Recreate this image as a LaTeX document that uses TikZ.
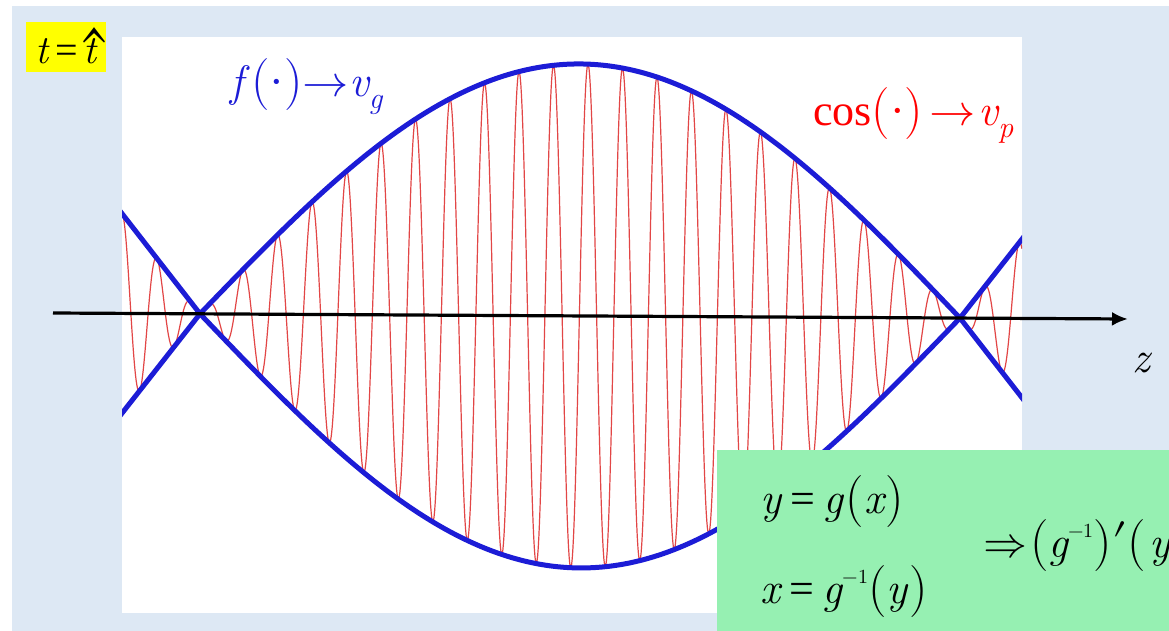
\documentclass[tikz,border=0pt]{standalone}
\usepackage{fontspec}
\usepackage{graphicx}
\setmainfont{Liberation Serif}
\newfontfamily\lmr{Latin Modern Roman}
\newfontfamily\lmm{Latin Modern Math}
\usetikzlibrary{arrows.meta}
\definecolor{bgblue}{RGB}{221,232,244}
\definecolor{envblue}{RGB}{28,28,214}
\definecolor{carrierred}{RGB}{226,70,70}
\definecolor{hlyellow}{RGB}{255,255,0}
\definecolor{boxgreen}{RGB}{150,240,178}
\newcommand\iv[1]{{\lmr\itshape #1}}
\newcommand\bp[1]{\raisebox{-1pt}{\fontsize{52}{52}\selectfont\lmr #1}}
\newcommand\smsub[1]{\raisebox{-12pt}{\fontsize{30}{30}\selectfont\lmr\itshape #1}}
\newcommand\smsup[1]{\raisebox{20pt}{\fontsize{20}{20}\selectfont\lmm #1}}
\newcommand\longarr{{\lmm\scalebox{1.05}[1]{→}}}
\newcommand\hatt{\makebox[0pt][l]{\hspace{-7pt}\raisebox{-25pt}{\lmm\scalebox{1.8}[2.2]{\char"02C6}}}\iv{t}}
\begin{document}
\begin{tikzpicture}[x=1pt,y=-1pt,
  declare function={
    ax(\x)=313+(\x-53)*0.0055866;
    env(\x)=(\x<200)?(-1.28*(200-\x)):((\x>960)?(-1.28*(\x-960)):(252*sin((\x-200)*0.2368421)));
  },
  envline/.style={envblue, line width=5pt},
  carrierline/.style={carrierred, line width=1.2pt, line join=round},
  axisline/.style={black, line width=3.2pt, -{Latex[length=16pt,width=14pt]}},
  lbl/.style={inner sep=0pt, font=\fontsize{44}{44}\selectfont},
]
\useasboundingbox (0,0) rectangle (1169,631);
\fill[bgblue] (12,6) rectangle (1169,631);
\fill[white] (122,37) rectangle (1022,613);
\begin{scope}
  \clip (122,37) rectangle (1022,613);
  \draw[carrierline] plot[domain=122:1022, samples=1400]
    (\x, {ax(\x) - env(\x)*cos((\x-588)*10.434783)});
  \draw[envline] plot[domain=120:1024, samples=300]
    (\x, {ax(\x) - env(\x)});
  \draw[envline] plot[domain=120:1024, samples=300]
    (\x, {ax(\x) + env(\x)});
\end{scope}
\coordinate (zs) at (53,313);
\coordinate (ze) at (1128,319);
\draw[axisline] (zs) -- (ze);
\node[lbl, anchor=base west] (zlab) at (1132,372) {\iv{z}};
\node[lbl, fill=hlyellow, minimum width=80pt, minimum height=50pt, text depth=0pt, text height=34pt, font=\fontsize{40}{40}\selectfont] (tlab) at (66,47) {\iv{t}\hspace{7pt}=\hspace{5pt}\hatt};
\node[lbl, anchor=base west, text=envblue] (flab) at (230,97) {\iv{f}\hspace{8pt}\bp{(}·\bp{)}\longarr\iv{v}\smsub{g}};
\node[lbl, anchor=base west, text=red] (clab) at (813,126) {cos\bp{(}·\bp{)}\hspace{6pt}\longarr\hspace{3pt}\iv{v}\smsub{p}};
\fill[boxgreen] (717,450) rectangle (1169,631);
\node[lbl, anchor=base west] (eq1) at (760,513) {\iv{y}\hspace{9pt}=\hspace{9pt}\iv{g}\hspace{2pt}\bp{(}\iv{x}\hspace{2pt}\bp{)}};
\node[lbl, anchor=base west] (eq2) at (760,603) {\iv{x}\hspace{9pt}=\hspace{9pt}\iv{g}\smsup{−1}\bp{(}\iv{y}\hspace{2pt}\bp{)}};
\node[lbl, anchor=base west] (eq3) at (983,557) {{\lmm ⇒}\hspace{3pt}\bp{(}\iv{g}\smsup{−1}\bp{)}{\fontsize{48}{48}\selectfont\lmm ′}\bp{(}\hspace{4pt}\iv{y}};
\end{tikzpicture}
\end{document}
